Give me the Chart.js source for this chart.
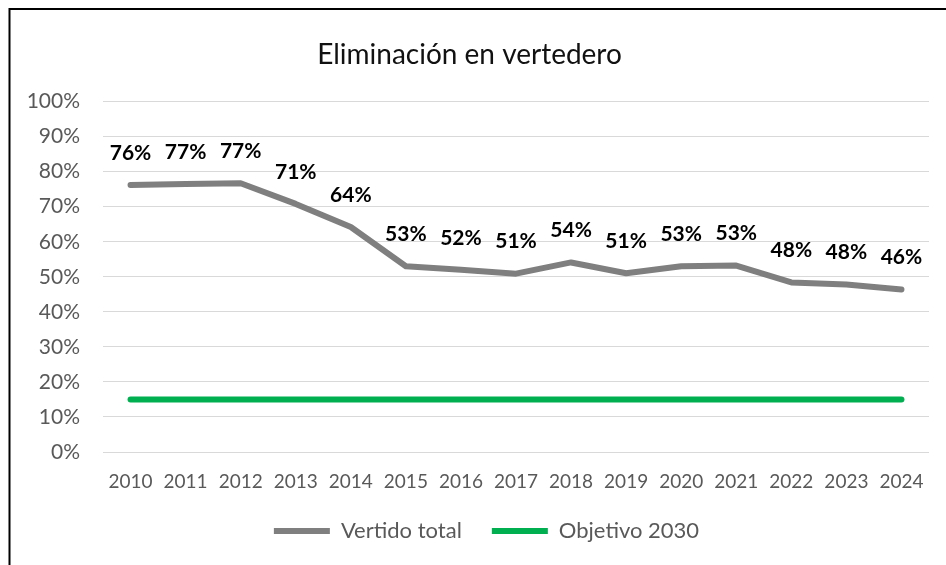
<!DOCTYPE html>
<html>
<head>
<meta charset="utf-8">
<script src="https://cdn.jsdelivr.net/npm/chart.js@4/dist/chart.umd.min.js"></script>
<style>
    html, body { margin: 0; padding: 0; background: #fff; }
    #wrap { width: 946px; height: 565px; }
</style>
</head>
<body>
<div id="wrap"><canvas id="myChart" width="946" height="565"></canvas></div>
<script>
// datos del grafico
const years = ["2010", "2011", "2012", "2013", "2014", "2015", "2016", "2017", "2018", "2019", "2020", "2021", "2022", "2023", "2024"];
const vertidoTotal = [76.2, 76.5, 76.7, 70.8, 64.2, 53.0, 52.0, 50.9, 54.1, 51.0, 53.0, 53.2, 48.4, 47.8, 46.4];
const objetivo2030 = [15, 15, 15, 15, 15, 15, 15, 15, 15, 15, 15, 15, 15, 15, 15];
const yTicks = [0, 10, 20, 30, 40, 50, 60, 70, 80, 90, 100];

const FONT = "Lato, 'Open Sans', sans-serif";

// marco negro arriba e izquierda (el resto queda fuera del recorte)
const framePlugin = {
    id: 'frame',
    beforeDraw(chart) {
        const ctx = chart.ctx;
        ctx.save();
        ctx.fillStyle = '#fff';
        ctx.fillRect(0, 0, chart.width, chart.height);
        ctx.strokeStyle = '#000';
        ctx.lineWidth = 2;
        ctx.beginPath();
        ctx.moveTo(9.5, chart.height);
        ctx.lineTo(9.5, 9);
        ctx.lineTo(chart.width, 9);
        ctx.stroke();
        ctx.restore();
    }
};

// la leyenda usa padding grande para separar los items, pero su alto se fija a mano
const legendPlugin = {
    id: 'legendTweak',
    beforeInit(chart) {
        const legend = chart.legend;
        if (!legend) return;
        const fit = legend.fit;
        legend.fit = function () {
            fit.call(this);
            this.height = 75;
        };
    },
    afterLayout(chart) {
        // un poco a la derecha, como en el original
        if (chart.legend) {
            chart.legend.left += 17;
            chart.legend.right += 17;
        }
    }
};

// etiquetas de valor encima de la linea gris
const labelPlugin = {
    id: 'valueLabels',
    afterDatasetsDraw(chart) {
        const ctx = chart.ctx;
        const meta = chart.getDatasetMeta(0);
        ctx.save();
        ctx.font = "bold 21px " + FONT;
        ctx.fillStyle = '#000';
        ctx.textAlign = 'center';
        ctx.textBaseline = 'middle';
        meta.data.forEach((pt, i) => {
            ctx.fillText(Math.round(vertidoTotal[i]) + '%', pt.x, pt.y - 32);
        });
        ctx.restore();
    }
};

const ctx = document.getElementById("myChart").getContext("2d");
const chart = new Chart(ctx, {
    type: 'line',
    data: {
        labels: years,
        datasets: [
            {
                label: "Vertido total",
                data: vertidoTotal,
                borderColor: '#7f7f7f',
                backgroundColor: '#7f7f7f',
                borderWidth: 6,
                borderCapStyle: 'round',
                borderJoinStyle: 'round',
                pointRadius: 0,
                tension: 0
            },
            {
                label: "Objetivo 2030",
                data: objetivo2030,
                borderColor: '#00b050',
                backgroundColor: '#00b050',
                borderWidth: 6,
                borderCapStyle: 'round',
                pointRadius: 0,
                tension: 0
            }
        ]
    },
    options: {
        responsive: false,
        animation: false,
        layout: {
            padding: { top: 10, left: 10, right: 17, bottom: 0 }
        },
        plugins: {
            title: {
                display: true,
                text: 'Eliminación en vertedero',
                color: '#111',
                font: { family: FONT, size: 28, weight: 'normal' },
                padding: { top: 28, bottom: 30 }
            },
            legend: {
                position: 'bottom',
                labels: {
                    color: '#595959',
                    font: { family: FONT, size: 22 },
                    usePointStyle: true,
                    pointStyle: 'line',
                    pointStyleWidth: 56,
                    padding: 30
                }
            },
            tooltip: { enabled: false }
        },
        scales: {
            x: {
                offset: true,
                grid: { display: false, drawTicks: false },
                border: { display: false },
                ticks: {
                    color: '#595959',
                    font: { family: FONT, size: 19 },
                    padding: 18,
                    maxRotation: 0
                },
                afterFit(scale) { scale.height = 38; }
            },
            y: {
                min: 0,
                max: 100,
                grid: { color: '#d9d9d9', lineWidth: 1, drawTicks: false },
                border: { display: false },
                afterBuildTicks(scale) {
                    scale.ticks = yTicks.map(v => ({ value: v }));
                },
                ticks: {
                    color: '#595959',
                    font: { family: FONT, size: 21 },
                    padding: 23,
                    callback: v => v + '%'
                },
                afterFit(scale) { scale.width = 93; }
            }
        }
    },
    plugins: [framePlugin, legendPlugin, labelPlugin]
});
</script>
</body>
</html>
